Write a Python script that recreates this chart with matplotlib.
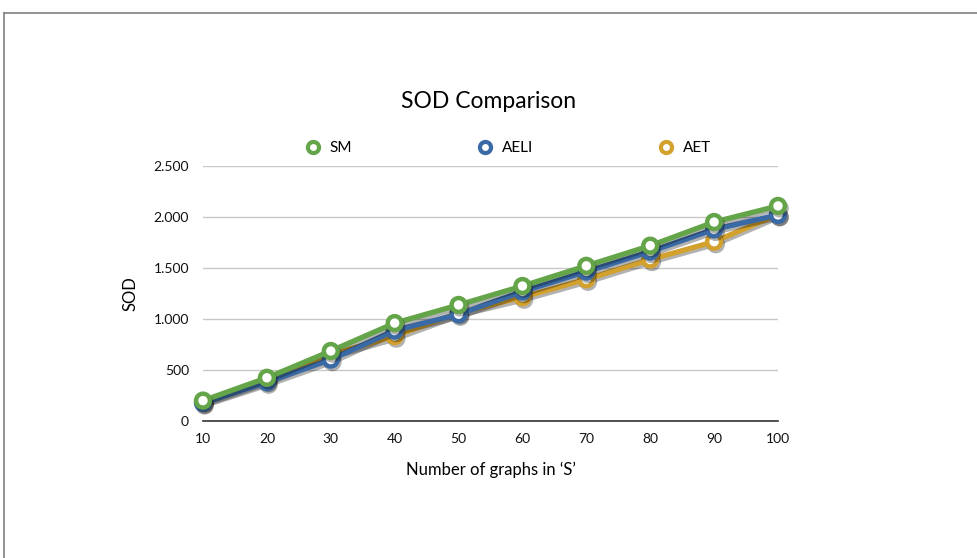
import matplotlib
matplotlib.use("Agg")
import matplotlib.pyplot as plt
import matplotlib.patheffects as pe
from matplotlib.ticker import FuncFormatter
from matplotlib.lines import Line2D

plt.rcParams['font.family'] = ['Lato', 'DejaVu Sans']

graphs = [10, 20, 30, 40, 50, 60, 70, 80, 90, 100]
sod_sm = [197, 421, 684, 958, 1136, 1322, 1520, 1718, 1950, 2108]
sod_aeli = [174, 378, 600, 885, 1045, 1268, 1464, 1660, 1878, 2020]
sod_aet = [181, 395, 650, 830, 1060, 1212, 1388, 1582, 1757, 2025]

series = [
    ("AET", sod_aet, "#d3a12e"),
    ("AELI", sod_aeli, "#3a6aa6"),
    ("SM", sod_sm, "#64a549"),
]

fig = plt.figure(figsize=(9.77, 5.58), dpi=100)
ax = fig.add_axes([203 / 977, 137.3 / 558, 575 / 977, 254.7 / 558])

handles = {}
for i, (name, vals, col) in enumerate(series):
    ax.plot(graphs, vals, color=col, lw=3.8, marker='o', ms=10,
            mfc='white', mec=col, mew=3.2, zorder=3 + i, clip_on=False,
            solid_joinstyle='round', path_effects=[
                pe.SimpleLineShadow(offset=(1.2, -1.8), shadow_color='black', alpha=0.3),
                pe.Normal()])
    handles[name] = Line2D([], [], color=col, lw=0, marker='o', ms=8,
                           mfc='white', mec=col, mew=3)

ax.set_xlim(10, 100)
ax.set_ylim(0, 2500)
ax.set_xticks(graphs)
ax.set_yticks([0, 500, 1000, 1500, 2000, 2500])
ax.yaxis.set_major_formatter(FuncFormatter(lambda v, p: f"{int(v):,}".replace(",", ".")))
ax.tick_params(length=0, labelsize=10, colors='#111111')
ax.tick_params(axis='x', pad=9)
ax.tick_params(axis='y', pad=10)

ax.grid(axis='y', color='#c8c8c8', lw=1)
ax.set_axisbelow(True)
for s in ('top', 'right', 'left'):
    ax.spines[s].set_visible(False)
ax.spines['bottom'].set_color('#333333')
ax.spines['bottom'].set_linewidth(1.2)
ax.spines['bottom'].set_zorder(2.5)

ax.set_xlabel("Number of graphs in \u2018S\u2019", fontsize=12, labelpad=12)
ax.set_ylabel("SOD", fontsize=12, labelpad=11)

fig.text(0.5, (558 - 101) / 558, "SOD Comparison", ha='center', va='center', fontsize=16.5)

ax.legend([handles["SM"], handles["AELI"], handles["AET"]], ["SM", "AELI", "AET"],
          ncol=3, loc='center', bbox_to_anchor=(0.531, (558 - 148 - 137.3) / 254.7),
          frameon=False, fontsize=11, columnspacing=8.2, handletextpad=0.6,
          handlelength=1.0)

# page border: top and left edges
fig.add_artist(Line2D([4 / 977, 1], [1 - 13 / 558, 1 - 13 / 558], color='#808080', lw=1.2))
fig.add_artist(Line2D([4 / 977, 4 / 977], [0, 1 - 13 / 558], color='#808080', lw=1.2))

fig.savefig("out.png", dpi=100)
